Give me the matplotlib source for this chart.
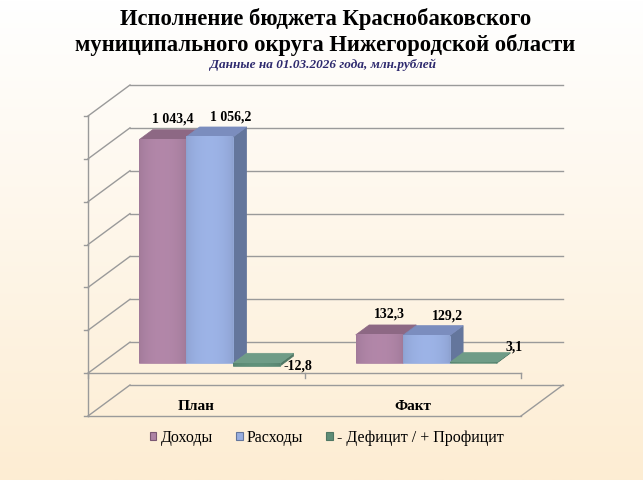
import numpy as np
import matplotlib
matplotlib.use('Agg')
import matplotlib.pyplot as plt
from matplotlib.patches import Polygon, Patch
from matplotlib.lines import Line2D
from matplotlib.transforms import IdentityTransform, ScaledTranslation
from matplotlib.colors import to_rgb

# ---------------- data ----------------
categories = ['План', 'Факт']
series_names = ['Доходы', 'Расходы', '- Дефицит / + Профицит']
dohody = [1043.4, 132.3]
rashody = [1056.2, 129.2]
deficit = [-12.8, 3.1]
label_dohody = ['1 043,4', '132,3']
label_rashody = ['1 056,2', '129,2']
label_deficit = ['-12,8', '3,1']
y_ticks = [-200, 0, 200, 400, 600, 800, 1000, 1200]

title_text = 'Исполнение бюджета Краснобаковского\nмуниципального округа Нижегородской области'
subtitle_text = 'Данные на 01.03.2026 года, млн.рублей'

# ---------------- style ----------------
SERIF = ['Liberation Serif', 'DejaVu Serif']
W, H = 643, 480
fig = plt.figure(figsize=(W / 100, H / 100), dpi=100)

# background gradient
bg = fig.add_axes([0, 0, 1, 1], zorder=-10)
g = np.linspace(0, 1, 256)[:, None, None]
c_top = np.array([1.0, 1.0, 1.0])
c_bot = np.array([253, 237, 211]) / 255
img = c_top * (1 - g) + c_bot * g
bg.imshow(img, aspect='auto', extent=[0, 1, 0, 1], origin='upper')
bg.axis('off')

# front plane axes
ax = fig.add_axes([88 / W, 64 / H, 433 / W, 300 / H])
ax.set_xlim(-0.5, len(categories) - 0.5)
ax.set_ylim(y_ticks[0], y_ticks[-1])
ax.axis('off')
ax.patch.set_alpha(0)

DX, DY = 42.0, 31.0  # depth vector in pixels
IDT = IdentityTransform()


def P(x, y, d):
    px, py = ax.transData.transform((x, y))
    return (px + d * DX, py + d * DY)


GRID = '#9a9a9a'


def line(p0, p1, lw=1.0, color=GRID):
    ax.add_line(Line2D([p0[0], p1[0]], [p0[1], p1[1]], transform=IDT,
                       color=color, lw=lw, clip_on=False, zorder=1))


xl, xr = -0.5, len(categories) - 0.5
for v in y_ticks:
    line(P(xl, v, 1), P(xr, v, 1))
    line(P(xl, v, 0), P(xl, v, 1))
    p = P(xl, v, 0)
    line((p[0] - 4, p[1]), p)
line(P(xl, y_ticks[0], 0), P(xl, y_ticks[-1], 0))
line(P(xl, y_ticks[0], 0), P(xr, y_ticks[0], 0))
line(P(xr, y_ticks[0], 0), P(xr, y_ticks[0], 1))
line(P(xl, 0, 0), P(xr, 0, 0))
for b in np.arange(xl, xr + 0.01, 1.0):
    p = P(b, 0, 0)
    line(p, (p[0], p[1] - 5))

# bars
series = [dohody, rashody, deficit]
labels = [label_dohody, label_rashody, label_deficit]
face_colors = [
    ('#ad83a4', '#8d6884', '#7a5873'),
    ('#98aee0', '#7b8dbe', '#64769c'),
    ('#5e8d77', '#6f9c87', '#4f7764'),
]
bw = 0.217
d0, d1 = 0.32, 0.64
label_off = [(10, 21), (21, 20), (41, 16)]
front_shift = ScaledTranslation(d0 * DX / 100, d0 * DY / 100, fig.dpi_scale_trans)

tt = np.linspace(0, 1, 64)
shade = 0.93 + 0.10 * np.sin(np.pi * tt) ** 0.6

for c in range(len(categories)):
    for s, vals in enumerate(series):
        v = vals[c]
        x0 = c - 1.5 * bw + s * bw
        x1 = x0 + bw
        lo, hi = min(0, v), max(0, v)
        fc, tc, sc = face_colors[s]
        front = [P(x0, lo, d0), P(x1, lo, d0), P(x1, hi, d0), P(x0, hi, d0)]
        top = [P(x0, hi, d0), P(x1, hi, d0), P(x1, hi, d1), P(x0, hi, d1)]
        side = [P(x1, lo, d0), P(x1, lo, d1), P(x1, hi, d1), P(x1, hi, d0)]
        for pts, col in ((side, sc), (front, fc), (top, tc)):
            ax.add_patch(Polygon(pts, closed=True, transform=IDT, facecolor=col,
                                 edgecolor=col, lw=0.5, clip_on=False, zorder=3))
        base = np.array(to_rgb(fc))
        grad = np.clip(base[None, None, :] * shade[None, :, None], 0, 1)
        im = ax.imshow(grad, extent=[x0, x1, lo, hi], aspect='auto',
                       transform=ax.transData + front_shift, zorder=3.5,
                       interpolation='bilinear')
        im.set_clip_on(False)
        lx, ly = P(x0 + bw / 2, v, d0)
        ox, oy = label_off[s]
        if v < 0:
            oy = 0
        ax.text(lx + ox, ly + oy, labels[s][c], transform=IDT, ha='center', va='center',
                fontsize=10, fontweight='bold', family=SERIF, color='black', zorder=5)

ax.set_xlim(-0.5, len(categories) - 0.5)
ax.set_ylim(y_ticks[0], y_ticks[-1])

# category labels
for c, name in enumerate(categories):
    px, py = P(c, y_ticks[0], 0)
    ax.text(px, py + 10, name, transform=IDT, ha='center', va='center',
            fontsize=11, fontweight='bold', family=SERIF, color='black', zorder=5)

# titles
fig.text(0.506, 1 - 32 / H, title_text, ha='center', va='center', fontsize=16.3,
         fontweight='bold', family=SERIF, color='black', linespacing=1.22)
fig.text(0.503, 1 - 65 / H, subtitle_text, ha='center', va='center', fontsize=9.5,
         fontweight='bold', fontstyle='italic', family=SERIF, color='#2e2a6e')

# legend
handles = [Patch(facecolor=face_colors[i][0], edgecolor=face_colors[i][2], lw=0.8)
           for i in range(3)]
fig.legend(handles, series_names, loc='center', bbox_to_anchor=(0.508, 1 - 438 / H),
           ncol=3, frameon=False, handlelength=0.42, handleheight=0.42,
           handletextpad=0.25, columnspacing=1.45,
           prop={'family': SERIF, 'size': 11.5})

fig.savefig('out.png', dpi=100)
